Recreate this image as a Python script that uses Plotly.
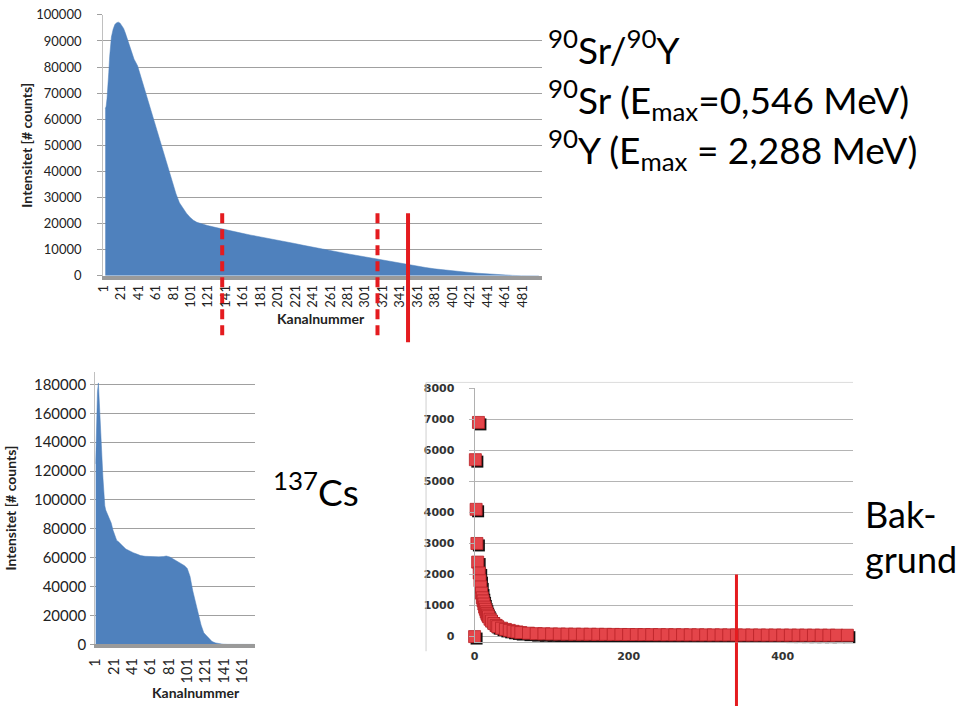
import plotly.graph_objects as go

# ---------------- data ----------------
# 90Sr/90Y spectrum (channel, counts)
sr_channel = [3, 4, 5, 6, 7, 8, 9, 10, 12, 14, 16, 18, 20, 22, 24, 26, 28, 30, 33, 36, 40, 44, 48, 52,
              56, 60, 64, 68, 72, 76, 80, 84, 88, 92, 96, 100, 104, 108, 112, 116, 120, 130, 140, 150,
              160, 170, 180, 190, 200, 210, 220, 230, 240, 250, 260, 270, 280, 290, 300, 310, 320, 330,
              340, 350, 360, 370, 380, 390, 400, 410, 420, 430, 440, 450, 460, 470, 480, 490, 500]
sr_counts = [64000, 65000, 68000, 71500, 78000, 84000, 88500, 91500, 94500, 96300, 97000, 97200, 96800,
             96000, 94800, 93000, 91000, 89000, 86000, 83000, 80500, 76000, 71800, 67500, 63000, 58500,
             54000, 49500, 45000, 40000, 35500, 31500, 28000, 25800, 24000, 22500, 21300, 20500, 20000,
             19600, 19300, 18500, 17700, 17000, 16300, 15600, 15000, 14300, 13700, 13000, 12400, 11700,
             11000, 10300, 9700, 9100, 8500, 7900, 7300, 6700, 6000, 5400, 4800, 4300, 3700, 3200, 2700,
             2300, 1900, 1600, 1300, 1000, 750, 500, 300, 180, 80, 30, 0]
sr_ticks = list(range(1, 482, 20))
sr_markers_dashed = [137, 315]
sr_marker_solid = [350]

# 137Cs spectrum (channel, counts)
cs_channel = [1, 2, 3, 4, 5, 6, 7, 8, 9, 10, 11, 12, 14, 16, 18, 20, 22, 24, 26, 28, 30, 34, 38, 42, 46,
              50, 55, 60, 65, 70, 75, 78, 82, 86, 90, 94, 98, 101, 104, 107, 110, 113, 116, 119, 122,
              125, 128, 132, 136, 140, 145, 150, 174]
cs_counts = [125000, 155000, 175000, 181000, 170000, 152000, 140000, 128000, 115000, 102000, 96000,
             93000, 90000, 88000, 84000, 79000, 75000, 72000, 71000, 70000, 68500, 66000, 64500, 63500,
             62500, 61500, 61000, 60800, 60700, 60600, 60800, 61200, 60500, 59000, 57500, 56000, 54500,
             52500, 47000, 37000, 29000, 21000, 13500, 8000, 6000, 3800, 2000, 1000, 400, 150, 50, 0, 0]
cs_ticks = list(range(1, 162, 20))

# Background (x, counts)
bg_x = [0, 1, 2, 3, 4, 5, 6, 7, 8, 9, 10, 11, 12, 13, 14, 15, 16, 17, 18, 20, 22, 25, 28, 30, 35, 40,
        45, 50, 55, 60, 70, 80, 90, 100, 110, 120, 130, 140, 150, 160, 170, 180, 190, 200, 210, 220,
        230, 240, 250, 260, 270, 280, 290, 300, 310, 320, 330, 340, 350, 360, 370, 380, 390, 400, 410,
        420, 430, 440, 450, 460, 470, 484]
bg_counts = [0, 5700, 4100, 3000, 2400, 6900, 2050, 1800, 1600, 1400, 1250, 1150, 1050, 950, 880, 800,
             740, 690, 640, 560, 500, 420, 360, 320, 270, 230, 200, 170, 150, 130, 110, 95, 90, 85, 82,
             80, 78, 76, 75, 73, 72, 70, 68, 67, 66, 65, 64, 62, 61, 60, 59, 58, 57, 56, 55, 55, 54, 53,
             52, 52, 51, 50, 50, 49, 48, 48, 47, 46, 46, 45, 45, 44]
bg_marker = [340]
bg_marker_top = 2000

W, H = 960, 714
def px(v):
    return v / W
def py(v):
    return 1 - v / H

BLUE = '#4f81bd'
RED = '#e41b1f'
GRID = '#a0a0a0'
TXT = '#222222'
FONT = 'Lato'

fig = go.Figure()

# top chart
fig.add_trace(go.Scatter(x=sr_channel, y=sr_counts, mode='lines', fill='tozeroy',
                         line=dict(color=BLUE, width=0.5), fillcolor=BLUE,
                         xaxis='x', yaxis='y', hoverinfo='skip', showlegend=False))
# 137Cs chart
fig.add_trace(go.Scatter(x=cs_channel, y=cs_counts, mode='lines', fill='tozeroy',
                         line=dict(color=BLUE, width=0.5), fillcolor=BLUE,
                         xaxis='x2', yaxis='y2', hoverinfo='skip', showlegend=False))
# background: shadow (base axes shifted by 2px) then markers
fig.add_trace(go.Scatter(x=bg_x, y=bg_counts, mode='markers',
                         marker=dict(symbol='square', size=12, color='#111111', line=dict(width=0)),
                         xaxis='x3', yaxis='y3', cliponaxis=False, hoverinfo='skip', showlegend=False))
fig.add_trace(go.Scatter(x=bg_x, y=bg_counts, mode='markers',
                         marker=dict(symbol='square', size=12, color='#e4454a',
                                     line=dict(width=0.8, color='#b82126')),
                         xaxis='x4', yaxis='y4', cliponaxis=False, hoverinfo='skip', showlegend=False))

tickfont = dict(family=FONT, size=13, color=TXT)

# bottom-right geometry
br_x0, br_x1 = 470, 852
br_ytop, br_ybot = 389, 649
br_xmax = (br_x1 - br_x0) / (311 / 400)
br_ypp = 1000 / 31.75
br_ymin = -(br_ybot - 643) * br_ypp
ux = br_xmax / (br_x1 - br_x0)

fig.update_layout(
    width=W, height=H, margin=dict(l=0, r=0, t=0, b=0),
    paper_bgcolor='white', plot_bgcolor='white', showlegend=False,
    xaxis=dict(anchor='y', domain=[px(95), px(538)], range=[0.5, 503.5], tickmode='array',
               tickvals=sr_ticks, ticktext=[str(t) for t in sr_ticks], tickangle=-90,
               tickfont=tickfont, showline=True, linecolor='#9a9a9a', linewidth=4,
               showgrid=False, zeroline=False, ticks='', fixedrange=True),
    yaxis=dict(anchor='x', domain=[py(274), py(7)], range=[0, 100000], dtick=10000, tickformat='d',
               tickfont=tickfont, showgrid=True, gridcolor=GRID, gridwidth=1,
               showline=True, linecolor='#c0c0c0', linewidth=1, ticks='outside', ticklen=5,
               tickcolor=GRID, zeroline=False, fixedrange=True, ticklabelstandoff=13),
    xaxis2=dict(anchor='y2', domain=[px(87), px(248)], range=[0.5, 174.5], tickmode='array',
                tickvals=cs_ticks, ticktext=[str(t) for t in cs_ticks], tickangle=-90,
                tickfont=dict(family=FONT, size=14.5, color=TXT), showline=True,
                linecolor='#9a9a9a', linewidth=4, showgrid=False, zeroline=False, ticks='',
                fixedrange=True, ticklabelstandoff=4),
    yaxis2=dict(anchor='x2', domain=[py(651), py(372)], range=[0, 180000 * (651 - 372) / (651 - 385)],
                dtick=20000, tickformat='d', tickfont=dict(family=FONT, size=15, color=TXT),
                showgrid=True, gridcolor=GRID, showline=True, linecolor='#c0c0c0', linewidth=1,
                ticks='outside', ticklen=4, tickcolor=GRID, zeroline=False, fixedrange=True,
                ticklabelstandoff=1),
    xaxis3=dict(anchor='y3', domain=[px(br_x0), px(br_x1)], range=[-2 * ux, br_xmax - 2 * ux],
                visible=False, fixedrange=True),
    yaxis3=dict(anchor='x3', domain=[py(br_ybot), py(br_ytop)],
                range=[br_ymin + 2 * br_ypp, 8000 + 2 * br_ypp], visible=False, fixedrange=True),
    xaxis4=dict(overlaying='x3', anchor='y3', range=[0, br_xmax], tickvals=[0, 200, 400], ticks='',
                tickfont=dict(family='DejaVu Sans', size=11, color='#333333', weight='bold'),
                showline=True, linecolor='#b0b0b0', showgrid=False, zeroline=False,
                fixedrange=True, ticklabelstandoff=3),
    yaxis4=dict(overlaying='y3', anchor='x3', range=[br_ymin, 8000], dtick=1000, tickformat='d',
                tickfont=dict(family='DejaVu Sans', size=11, color='#333333', weight='bold'),
                showgrid=True, gridcolor='#b4b4b4', showline=True, linecolor='#b0b0b0',
                ticks='outside', ticklen=5, tickcolor='#b4b4b4', zeroline=False,
                fixedrange=True, ticklabelstandoff=12),
)

shapes = []
for c in sr_markers_dashed:
    shapes.append(dict(type='line', xref='x', yref='paper', x0=c, x1=c, y0=py(210), y1=py(340),
                       line=dict(color=RED, width=4, dash='10px,6px')))
for c in sr_marker_solid:
    shapes.append(dict(type='line', xref='x', yref='paper', x0=c, x1=c, y0=py(210), y1=py(342),
                       line=dict(color=RED, width=4)))
for c in bg_marker:
    shapes.append(dict(type='line', xref='x4', yref='y4', x0=c, x1=c, y0=bg_marker_top,
                       y1=br_ymin, line=dict(color=RED, width=3)))
    shapes.append(dict(type='line', xref='x4', yref='paper', x0=c, x1=c, y0=py(br_ybot), y1=0,
                       line=dict(color=RED, width=3)))
# frame of background screenshot
shapes.append(dict(type='line', xref='paper', yref='paper', x0=px(421), x1=px(421),
                   y0=py(383), y1=py(658), line=dict(color='#cfcfcf', width=1)))
shapes.append(dict(type='line', xref='paper', yref='paper', x0=px(421), x1=px(852),
                   y0=py(383), y1=py(383), line=dict(color='#dcdcdc', width=1)))
fig.update_layout(shapes=shapes)

ann = []
title_font = dict(family=FONT, size=14, color=TXT, weight='bold')
ann.append(dict(text='Intensitet [# counts]', x=px(18), y=py(140), xref='paper', yref='paper',
                textangle=-90, showarrow=False, font=title_font, xanchor='center', yanchor='middle'))
ann.append(dict(text='Intensitet [# counts]', x=px(2), y=py(511), xref='paper', yref='paper',
                textangle=-90, showarrow=False, font=title_font, xanchor='center', yanchor='middle'))
ann.append(dict(text='Kanalnummer', x=px(315), y=py(318), xref='paper', yref='paper',
                showarrow=False, font=title_font, xanchor='center', yanchor='middle'))
ann.append(dict(text='Kanalnummer', x=px(189), y=py(700), xref='paper', yref='paper',
                showarrow=False, font=title_font, xanchor='center', yanchor='middle'))

big = dict(family=FONT, size=37, color='#000000')
ann.append(dict(text='<sup>90</sup>Sr/<sup>90</sup>Y', x=px(542), y=py(40), xref='paper',
                yref='paper', showarrow=False, font=big, xanchor='left', yanchor='middle'))
ann.append(dict(text='<sup>90</sup>Sr (E<sub>max</sub>=0,546 MeV)', x=px(542), y=py(94),
                xref='paper', yref='paper', showarrow=False, font=big, xanchor='left',
                yanchor='middle'))
ann.append(dict(text='<sup>90</sup>Y (E<sub>max</sub> = 2,288 MeV)', x=px(542), y=py(145),
                xref='paper', yref='paper', showarrow=False, font=big, xanchor='left',
                yanchor='middle'))
ann.append(dict(text='<sup>137</sup>Cs', x=px(264), y=py(492), xref='paper', yref='paper',
                showarrow=False, font=big, xanchor='left', yanchor='middle'))
big2 = dict(family=FONT, size=36, color='#000000')
ann.append(dict(text='Bak-', x=px(862), y=py(518), xref='paper', yref='paper',
                showarrow=False, font=big2, xanchor='left', yanchor='middle'))
ann.append(dict(text='grund', x=px(862), y=py(564), xref='paper', yref='paper',
                showarrow=False, font=big2, xanchor='left', yanchor='middle'))
fig.update_layout(annotations=ann)

fig.write_html('out.html')
